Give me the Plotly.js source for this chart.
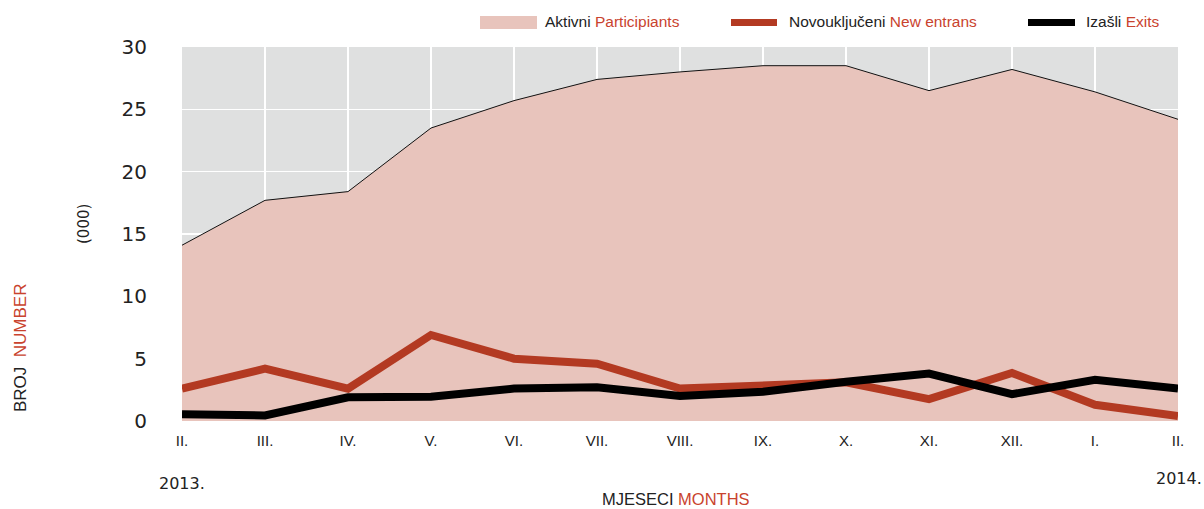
<!DOCTYPE html>
<html>
<head>
<meta charset="utf-8">
<script src="https://cdn.plot.ly/plotly-3.0.1.min.js"></script>
<style>html,body{margin:0;padding:0;background:#fff;}#chart{width:1204px;height:509px;}</style>
</head>
<body>
<div id="chart"></div>
<script>
const months = ["II.", "III.", "IV.", "V.", "VI.", "VII.", "VIII.", "IX.", "X.", "XI.", "XII.", "I.", "II."];
const participants = [14.1, 17.7, 18.4, 23.5, 25.7, 27.4, 28.0, 28.5, 28.5, 26.5, 28.2, 26.4, 24.2];
const newEntrants = [2.6, 4.2, 2.6, 6.9, 5.0, 4.6, 2.6, 2.9, 3.1, 1.75, 3.85, 1.3, 0.4];
const exits = [0.55, 0.45, 1.9, 1.95, 2.6, 2.7, 2.0, 2.35, 3.15, 3.8, 2.15, 3.3, 2.6];
const yTicks = [0, 5, 10, 15, 20, 25, 30];

const RED = "#b33a22";
const REDTXT = "#c9432e";
const FILL = "#e8c4bc";
const FONT = "Liberation Sans, Arial, sans-serif";
const NUMFONT = "DejaVu Sans, sans-serif";

const idx = months.map((m, i) => i);

// plot area in px: x 182..1178, y 47..421
const L = 182, R = 1178, T = 47, B = 421;
const px = x => (x - L) / (R - L);
const py = y => (B - y) / (B - T);

const traces = [
  {x: idx, y: participants, type: "scatter", mode: "lines", fill: "tozeroy",
   fillcolor: FILL, line: {color: "#111", width: 1}, showlegend: false, hoverinfo: "skip"},
  {x: idx, y: newEntrants, type: "scatter", mode: "lines", cliponaxis: false,
   line: {color: RED, width: 8}, showlegend: false},
  {x: idx, y: exits, type: "scatter", mode: "lines", cliponaxis: false,
   line: {color: "#000", width: 8}, showlegend: false}
];

const ann = (x, y, text, opts) => Object.assign({
  xref: "paper", yref: "paper", x: px(x), y: py(y), text: text, showarrow: false,
  font: {family: FONT, size: 15.5, color: "#222"}, xanchor: "left", yanchor: "middle"
}, opts || {});

const layout = {
  width: 1204, height: 509,
  margin: {l: L, r: 1204 - R, t: T, b: 509 - B},
  paper_bgcolor: "#fff", plot_bgcolor: "#dfe0e0",
  showlegend: false,
  font: {family: FONT, color: "#222"},
  xaxis: {
    range: [0, 12], tickmode: "array", tickvals: idx, ticktext: months,
    showgrid: true, gridcolor: "#ffffff", gridwidth: 1.5, zeroline: false,
    ticks: "outside", ticklen: 6, tickcolor: "rgba(0,0,0,0)",
    tickfont: {family: FONT, size: 15, color: "#222"}, showline: false
  },
  yaxis: {
    range: [0, 30], tickmode: "array", tickvals: yTicks, ticktext: yTicks.map(String),
    showgrid: true, gridcolor: "#ffffff", gridwidth: 1.5, zeroline: false,
    ticks: "outside", ticklen: 30, tickcolor: "rgba(0,0,0,0)",
    tickfont: {family: NUMFONT, size: 20, color: "#222"}, showline: false
  },
  shapes: [
    {type: "rect", xref: "paper", yref: "paper", x0: px(480), x1: px(537), y0: py(16), y1: py(29),
     fillcolor: FILL, line: {width: 0}},
    {type: "line", xref: "paper", yref: "paper", x0: px(731), x1: px(777), y0: py(22.5), y1: py(22.5),
     line: {color: RED, width: 7}},
    {type: "line", xref: "paper", yref: "paper", x0: px(1028), x1: px(1075), y0: py(22.5), y1: py(22.5),
     line: {color: "#000", width: 7}}
  ],
  annotations: [
    ann(543, 22, 'Aktivni <span style="color:' + REDTXT + '">Participiants</span>'),
    ann(787, 22, 'Novouključeni <span style="color:' + REDTXT + '">New entrans</span>'),
    ann(1084, 22, 'Izašli <span style="color:' + REDTXT + '">Exits</span>'),
    ann(84, 224, "(000)", {xanchor: "center", textangle: -90, font: {family: NUMFONT, size: 15, color: "#222"}}),
    ann(20, 348, 'BROJ &nbsp;<span style="color:' + REDTXT + '">NUMBER</span>', {xanchor: "center", textangle: -90, font: {family: FONT, size: 17, color: "#222"}}),
    ann(182, 483, "2013.", {xanchor: "center", font: {family: NUMFONT, size: 16, color: "#222"}}),
    ann(1179, 478, "2014.", {xanchor: "center", font: {family: NUMFONT, size: 16, color: "#222"}}),
    ann(676, 499, 'MJESECI <span style="color:' + REDTXT + '">MONTHS</span>', {xanchor: "center", font: {family: FONT, size: 16.5, color: "#222"}})
  ]
};

Plotly.newPlot("chart", traces, layout, {staticPlot: true, displayModeBar: false});
</script>
</body>
</html>
